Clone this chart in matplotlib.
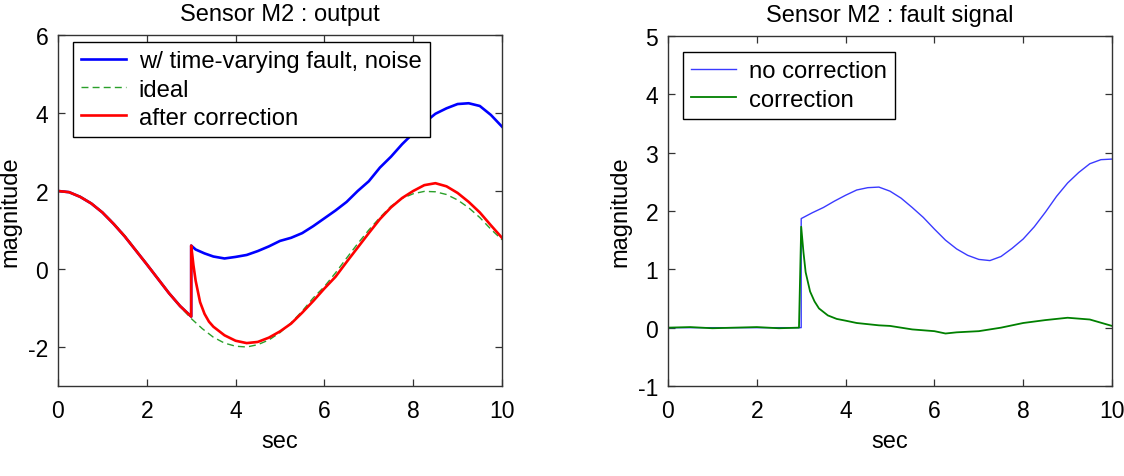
import matplotlib
matplotlib.use("Agg")
import matplotlib.pyplot as plt

plt.rcParams['font.family'] = ['Liberation Sans', 'DejaVu Sans']
plt.rcParams['axes.unicode_minus'] = False

# ---------------- Left panel data: Sensor M2 output ----------------
t_ideal = [0, 0.25, 0.5, 0.75, 1.0, 1.25, 1.5, 1.75, 2.0, 2.25, 2.5, 2.75, 3.0,
           3.25, 3.5, 3.75, 4.0, 4.25, 4.5, 4.75, 5.0, 5.25, 5.5, 5.75, 6.0,
           6.25, 6.5, 6.75, 7.0, 7.25, 7.5, 7.75, 8.0, 8.25, 8.5, 8.75, 9.0,
           9.25, 9.5, 9.75, 10.0]
ideal = [2.00, 1.96, 1.86, 1.69, 1.46, 1.18, 0.86, 0.50, 0.13, -0.24, -0.61, -0.96, -1.27,
         -1.53, -1.75, -1.90, -1.98, -2.00, -1.94, -1.82, -1.63, -1.38, -1.08, -0.74, -0.45,
         -0.10, 0.28, 0.65, 1.00, 1.32, 1.61, 1.81, 1.93, 1.99, 1.98, 1.91, 1.77,
         1.57, 1.32, 1.02, 0.75]

t_out = [0, 0.25, 0.5, 0.75, 1.0, 1.25, 1.5, 1.75, 2.0, 2.25, 2.5, 2.75, 3.0,
         3.0, 3.05, 3.1, 3.2, 3.3, 3.4, 3.5, 3.75, 4.0, 4.25, 4.5, 4.75, 5.0,
         5.25, 5.5, 5.75, 6.0, 6.25, 6.5, 6.75, 7.0, 7.25, 7.5, 7.75, 8.0,
         8.25, 8.5, 8.75, 9.0, 9.25, 9.5, 9.75, 10.0]
faulty = [2.00, 1.97, 1.85, 1.68, 1.45, 1.16, 0.84, 0.48, 0.12, -0.25, -0.62, -0.95, -1.22,
          0.60, 0.55, 0.50, 0.45, 0.40, 0.36, 0.32, 0.27, 0.31, 0.36, 0.46, 0.58, 0.72,
          0.80, 0.92, 1.10, 1.30, 1.50, 1.72, 2.00, 2.25, 2.60, 2.88, 3.20, 3.48,
          3.75, 3.98, 4.12, 4.23, 4.25, 4.18, 3.95, 3.65]
corrected = [2.00, 1.97, 1.85, 1.68, 1.45, 1.16, 0.84, 0.48, 0.12, -0.25, -0.62, -0.95, -1.22,
             0.60, 0.10, -0.30, -0.85, -1.15, -1.35, -1.48, -1.70, -1.84, -1.90, -1.87, -1.76, -1.60,
             -1.40, -1.12, -0.82, -0.50, -0.20, 0.18, 0.55, 0.92, 1.28, 1.58, 1.82, 2.00,
             2.15, 2.20, 2.12, 1.95, 1.72, 1.45, 1.12, 0.80]

# ---------------- Right panel data: Sensor M2 fault signal ----------------
t_fault = [0, 3.0, 3.0, 3.25, 3.5, 3.75, 4.0, 4.25, 4.5, 4.75, 5.0, 5.25, 5.5, 5.75,
           6.0, 6.25, 6.5, 6.75, 7.0, 7.25, 7.5, 7.75, 8.0, 8.25, 8.5, 8.75, 9.0,
           9.25, 9.5, 9.75, 10.0]
no_corr = [0.0, 0.0, 1.87, 1.97, 2.06, 2.17, 2.27, 2.36, 2.40, 2.41, 2.34, 2.22, 2.06, 1.89,
           1.69, 1.50, 1.35, 1.24, 1.17, 1.15, 1.22, 1.36, 1.52, 1.73, 1.98, 2.25, 2.48,
           2.66, 2.81, 2.88, 2.89]

t_corr = [0, 0.5, 1.0, 1.5, 2.0, 2.5, 2.95, 3.0, 3.05, 3.1, 3.2, 3.3, 3.4, 3.5, 3.6,
          3.8, 4.0, 4.25, 4.5, 4.75, 5.0, 5.5, 6.0, 6.25, 6.5, 7.0, 7.5, 8.0, 8.5,
          9.0, 9.5, 10.0]
corr = [0.0, 0.01, -0.01, 0.0, 0.01, -0.01, 0.0, 1.73, 1.30, 0.95, 0.62, 0.45, 0.33, 0.27, 0.21,
        0.15, 0.12, 0.08, 0.06, 0.04, 0.03, -0.03, -0.06, -0.10, -0.08, -0.06, 0.0, 0.08, 0.13,
        0.17, 0.14, 0.03]

x_ticks = [0, 2, 4, 6, 8, 10]
left_yticks = [-2, 0, 2, 4, 6]
right_yticks = [-1, 0, 1, 2, 3, 4, 5]

W, H = 1124, 477
fig = plt.figure(figsize=(W / 100, H / 100), dpi=100)

def px_axes(x0, y0, x1, y1):
    return fig.add_axes([x0 / W, 1 - y1 / H, (x1 - x0) / W, (y1 - y0) / H])

ax1 = px_axes(58, 36, 502, 387)
ax2 = px_axes(668, 37, 1112, 387)

TICK_FS = 16.5
LABEL_FS = 17
LEG_FS = 17.2
spine_c = '#333333'

def style(ax):
    for s in ax.spines.values():
        s.set_color(spine_c)
        s.set_linewidth(1.0)
    ax.tick_params(direction='in', top=True, right=True, length=5, width=0.9,
                   color=spine_c, labelsize=TICK_FS)
    ax.tick_params(axis='x', pad=9)
    ax.tick_params(axis='y', pad=7)

def legend(ax, anchor):
    leg = ax.legend(loc='upper left', bbox_to_anchor=anchor, borderaxespad=0,
                    fontsize=LEG_FS, frameon=True, fancybox=False, framealpha=1,
                    edgecolor='black', handlelength=1.85, handletextpad=0.55,
                    labelspacing=0.26, borderpad=0.35)
    leg.get_frame().set_linewidth(1.0)
    return leg

# Left
ax1.plot(t_out, faulty, color='#0000ff', lw=1.9, label='w/ time-varying fault, noise')
ax1.plot(t_ideal, ideal, color='#2aa02a', lw=1.0, ls=(0, (5, 3)), label='ideal')
ax1.plot(t_out, corrected, color='#ff0000', lw=1.9, label='after correction')
ax1.set_xlim(0, 10)
ax1.set_ylim(-3, 6)
ax1.set_xticks(x_ticks)
ax1.set_yticks(left_yticks)
style(ax1)
ax1.set_title('Sensor M2 : output', fontsize=LABEL_FS, pad=11)
ax1.set_xlabel('sec', fontsize=LABEL_FS, labelpad=6)
ax1.set_ylabel('magnitude', fontsize=LABEL_FS, labelpad=5)
legend(ax1, (0.034, 0.98))

# Right
ax2.plot(t_fault, no_corr, color='#3a3aff', lw=1.0, label='no correction')
ax2.plot(t_corr, corr, color='#008000', lw=1.3, label='correction')
ax2.set_xlim(0, 10)
ax2.set_ylim(-1, 5)
ax2.set_xticks(x_ticks)
ax2.set_yticks(right_yticks)
style(ax2)
ax2.set_title('Sensor M2 : fault signal', fontsize=LABEL_FS, pad=11)
ax2.set_xlabel('sec', fontsize=LABEL_FS, labelpad=6)
ax2.set_ylabel('magnitude', fontsize=LABEL_FS, labelpad=5)
legend(ax2, (0.034, 0.954))

fig.savefig('out.png', dpi=100)
